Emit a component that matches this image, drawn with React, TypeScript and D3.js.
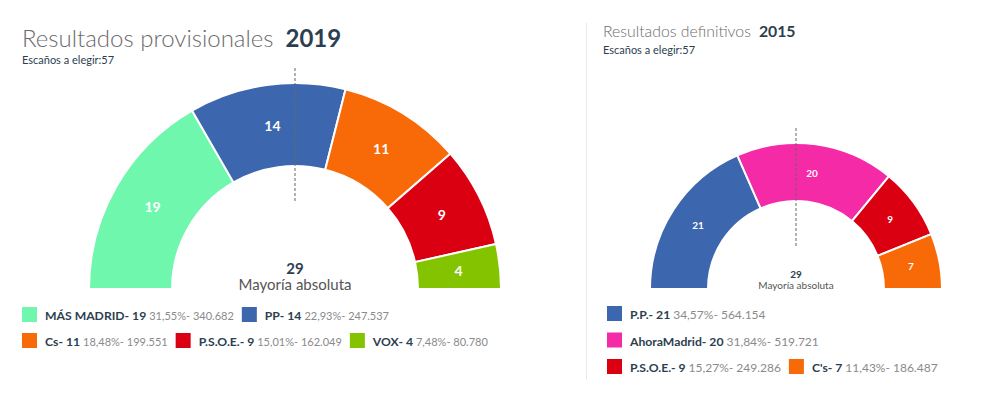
import React, { useEffect, useRef } from "react";
import * as d3 from "d3";

const partidos2019 = ["MÁS MADRID", "PP", "Cs", "P.S.O.E.", "VOX"];
const escanos2019 = [19, 14, 11, 9, 4];
const porcentajes2019 = ["31,55%", "22,93%", "18,48%", "15,01%", "7,48%"];
const votos2019 = ["340.682", "247.537", "199.551", "162.049", "80.780"];
const colores2019 = ["#70f7ae", "#3c66ae", "#f86a08", "#da0011", "#83c300"];

const partidos2015 = ["P.P.", "AhoraMadrid", "P.S.O.E.", "C's"];
const escanos2015 = [21, 20, 9, 7];
const porcentajes2015 = ["34,57%", "31,84%", "15,27%", "11,43%"];
const votos2015 = ["564.154", "519.721", "249.286", "186.487"];
const colores2015 = ["#3c66ae", "#f52aa6", "#da0011", "#f86a08"];

const FONT = "Lato, 'Open Sans', sans-serif";
const DARK = "#2c3e50";
const GREY = "#8a8a8a";

type Cfg = {
    nombres: string[];
    escanos: number[];
    pct: string[];
    votos: string[];
    colores: string[];
    cx: number;
    cy: number;
    rOut: number;
    rIn: number;
    labelSize: number;
    centerSize: number;
    centerY: number;
    mayoriaY: number;
    dash: [number, number];
    legendX: number;
    legendY: number;
    legendMaxX: number;
    rowH: number;
    boldSize: number;
    greySize: number;
};

const drawHemi = (svg: d3.Selection<SVGSVGElement, unknown, null, undefined>, c: Cfg) => {
    const g = svg.append("g").attr("transform", `translate(${c.cx},${c.cy})`);

    const pie = d3
        .pie<number>()
        .sort(null)
        .startAngle(-Math.PI / 2)
        .endAngle(Math.PI / 2);
    const arc = d3
        .arc<d3.PieArcDatum<number>>()
        .innerRadius(c.rIn)
        .outerRadius(c.rOut);
    const arcs = pie(c.escanos);

    g.selectAll(".seg")
        .data(arcs)
        .enter()
        .append("path")
        .attr("d", arc)
        .attr("fill", (_, i) => c.colores[i])
        .attr("stroke", "#fff")
        .attr("stroke-width", 2);

    g.selectAll(".lbl")
        .data(arcs)
        .enter()
        .append("text")
        .attr("transform", (d) => `translate(${arc.centroid(d)})`)
        .attr("text-anchor", "middle")
        .attr("dy", "0.35em")
        .attr("fill", "#fff")
        .attr("font-weight", 700)
        .attr("font-size", c.labelSize)
        .text((d) => d.data);

    g.append("line")
        .attr("x1", 0)
        .attr("x2", 0)
        .attr("y1", c.dash[0])
        .attr("y2", c.dash[1])
        .attr("stroke", "#666")
        .attr("stroke-dasharray", "3,2");

    const total = d3.sum(c.escanos);
    g.append("text")
        .attr("text-anchor", "middle")
        .attr("y", c.centerY)
        .attr("fill", DARK)
        .attr("font-weight", 700)
        .attr("font-size", c.centerSize)
        .text(Math.floor(total / 2) + 1);
    g.append("text")
        .attr("text-anchor", "middle")
        .attr("y", c.mayoriaY)
        .attr("fill", "#555")
        .attr("font-size", c.centerSize)
        .text("Mayoría absoluta");

    // leyenda en flujo
    let x = c.legendX;
    let y = c.legendY;
    c.nombres.forEach((n, i) => {
        const item = svg.append("g");
        item.append("rect")
            .attr("width", 15)
            .attr("height", 15)
            .attr("fill", c.colores[i]);
        const t = item.append("text")
            .attr("x", 23)
            .attr("y", 13)
            .attr("font-size", c.boldSize);
        t.append("tspan")
            .attr("font-weight", 700)
            .attr("fill", DARK)
            .text(`${n}- ${c.escanos[i]} `);
        t.append("tspan")
            .attr("fill", GREY)
            .attr("font-size", c.greySize)
            .text(`${c.pct[i]}- ${c.votos[i]}`);
        const w = 23 + (t.node() as SVGTextElement).getComputedTextLength();
        if (x + w > c.legendMaxX && x > c.legendX) {
            x = c.legendX;
            y += c.rowH;
        }
        item.attr("transform", `translate(${x},${y})`);
        x += w + 8;
    });
};

const App = () => {
    const ref = useRef<SVGSVGElement>(null);

    useEffect(() => {
        if (!ref.current) return;
        d3.select(ref.current).selectAll("*").remove();
        const svg = d3
            .select(ref.current)
            .attr("width", 1003)
            .attr("height", 417)
            .attr("font-family", FONT);

        svg.append("rect").attr("width", 1003).attr("height", 417).attr("fill", "#fff");

        // títulos
        const t1 = svg.append("text").attr("x", 22).attr("y", 47).attr("font-size", 24);
        t1.append("tspan").attr("fill", "#6b6b6b").attr("font-weight", 300).text("Resultados provisionales");
        t1.append("tspan").attr("dx", 12).attr("fill", DARK).attr("font-weight", 700).text("2019");
        svg.append("text")
            .attr("x", 22)
            .attr("y", 64)
            .attr("font-size", 11)
            .attr("fill", DARK)
            .text("Escaños a elegir:57");

        const t2 = svg.append("text").attr("x", 603).attr("y", 37).attr("font-size", 15.8);
        t2.append("tspan").attr("fill", "#6b6b6b").attr("font-weight", 300).text("Resultados definitivos");
        t2.append("tspan").attr("dx", 8).attr("fill", DARK).attr("font-weight", 700).text("2015");
        svg.append("text")
            .attr("x", 603)
            .attr("y", 54)
            .attr("font-size", 11)
            .attr("fill", DARK)
            .text("Escaños a elegir:57");

        svg.append("line")
            .attr("x1", 586.5)
            .attr("x2", 586.5)
            .attr("y1", 23)
            .attr("y2", 380)
            .attr("stroke", "#e8e8ee");

        drawHemi(svg, {
            nombres: partidos2019,
            escanos: escanos2019,
            pct: porcentajes2019,
            votos: votos2019,
            colores: colores2019,
            cx: 295,
            cy: 289,
            rOut: 206,
            rIn: 123,
            labelSize: 14,
            centerSize: 15,
            centerY: -15,
            mayoriaY: 1,
            dash: [-221, -86],
            legendX: 22,
            legendY: 307,
            legendMaxX: 530,
            rowH: 26,
            boldSize: 12.2,
            greySize: 11,
        });

        drawHemi(svg, {
            nombres: partidos2015,
            escanos: escanos2015,
            pct: porcentajes2015,
            votos: votos2015,
            colores: colores2015,
            cx: 796,
            cy: 289,
            rOut: 146,
            rIn: 88,
            labelSize: 10,
            centerSize: 10,
            centerY: -11,
            mayoriaY: 0,
            dash: [-161, -41],
            legendX: 607,
            legendY: 306,
            legendMaxX: 975,
            rowH: 26.5,
            boldSize: 12.2,
            greySize: 12,
        });
    }, []);

    return <svg ref={ref} style={{ position: "absolute", left: 0, top: 0 }} />;
};

export default App;
